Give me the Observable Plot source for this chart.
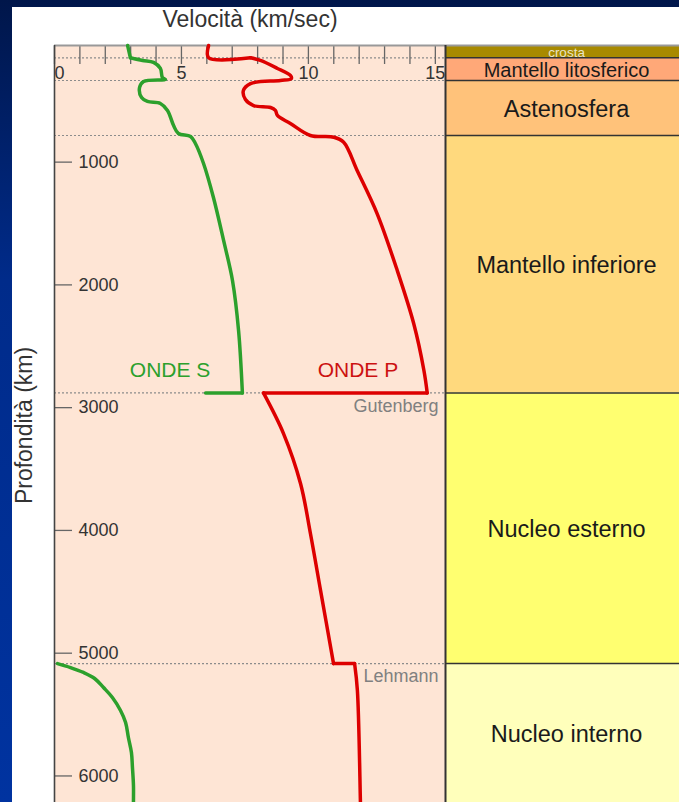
<!DOCTYPE html>
<html><head><meta charset="utf-8">
<script src="https://cdn.jsdelivr.net/npm/d3@7"></script>
<script src="https://cdn.jsdelivr.net/npm/@observablehq/plot@0.6"></script>
<style>
html,body{margin:0;padding:0;width:679px;height:802px;overflow:hidden;}
body{background:linear-gradient(180deg,#00164a 0%,#002b8a 35%,#0033a0 100%);position:relative;font-family:"Liberation Sans",Arial,sans-serif;}
#panel{position:absolute;left:12px;top:7px;width:667px;height:795px;background:#fff;overflow:hidden;}
#main{position:absolute;left:0;top:0;width:433px;}
#col{position:absolute;left:432px;top:0;width:243px;}
#panel svg{max-width:none !important;}
</style></head><body>
<div id="panel"><div id="main"></div><div id="col"></div></div>
<script>
// ---- data ----
const depthDomain = [50, 6371];                 // km, top of frame to Earth's centre
const xTicks = [0,1,2,3,4,5,6,7,8,9,10,11,12,13,14,15];
const xTickLabels = [0, 5, 10, 15];
const yTickLabels = [1000, 2000, 3000, 4000, 5000, 6000];

const layerNames  = ["crosta","Mantello litosferico","Astenosfera","Mantello inferiore","Nucleo esterno","Nucleo interno"];
const layerTop    = [50, 150, 335, 783, 2880, 5085];
const layerBottom = [150, 335, 783, 2880, 5085, 6371];
const layerColors = ["#a88a00","#ffa878","#ffc27a","#ffd97d","#ffff70","#ffffbb"];

const discNames  = ["Gutenberg", "Lehmann"];
const discDepths = [2880, 5085];

const waveNames = ["ONDE S", "ONDE P"];

// S waves in crust + mantle: [velocity km/s, depth km]
const sMantle = [[2.88,50],[2.99,150],[3.47,172],[3.90,188],[4.17,237],[4.25,311],[4.37,327],[3.51,343],[3.35,392],[3.43,474],[3.66,506],[4.17,522],[4.45,579],[4.69,702],[4.88,767],[5.36,791],[5.55,848],[5.87,1011],[6.26,1288],[6.66,1638],[7.01,1964],[7.25,2372],[7.40,2880],[5.95,2880]];
// S waves in inner core
const sInner = [[0.12,5085],[0.63,5117],[1.14,5157],[1.58,5206],[1.93,5280],[2.28,5361],[2.60,5467],[2.80,5565],[2.91,5687],[3.03,5809],[3.07,5931],[3.11,6078],[3.11,6217],[3.11,6371]];
// P waves
const pWave = [[6.07,50],[6.07,150],[7.72,150],[8.11,172],[8.78,237],[9.29,294],[9.33,319],[8.90,335],[7.72,360],[7.44,417],[7.52,490],[7.84,539],[8.51,555],[8.70,579],[8.78,620],[9.29,685],[10.08,783],[11.0,797],[11.39,838],[11.92,1068],[12.71,1421],[13.50,1883],[14.15,2317],[14.55,2697],[14.68,2880],[8.23,2880],[9.02,3211],[9.69,3618],[10.08,4025],[10.48,4490],[10.99,5085],[11.82,5085],[11.93,5304],[12.05,6217],[12.07,6371]];

// ---- build ----
const FONT = "Liberation Sans, Arial, Helvetica, sans-serif";
const boundaries = layerTop.slice(1);
const layers = layerNames.map((name, i) => ({name, top: layerTop[i], bottom: layerBottom[i]}));
const discs = discNames.map((name, i) => ({name, depth: discDepths[i]}));
const sPeak = sMantle[sMantle.length - 2];
const pPeakIndex = d3.maxIndex(pWave, d => d[0]);
const pPeak = pWave[pPeakIndex];
const xy = {x: d => d[0], y: d => d[1]};

// split curves into smooth stretches and sharp steps (breaks at discontinuities / corners)
function pieces(arr, breaks) {
  const out = [];
  for (let k = 0; k < breaks.length - 1; k++) out.push(arr.slice(breaks[k], breaks[k + 1] + 1));
  return out;
}
const lehmannIndex = pWave.findIndex(d => d[1] === discDepths[1]);
const sBreaks = [0, 1, sMantle.length - 2, sMantle.length - 1];
const pBreaks = [0, 2, pPeakIndex, pPeakIndex + 1, lehmannIndex, lehmannIndex + 1, pWave.length - 1];
const sPieces = pieces(sMantle, sBreaks);
const pPieces = pieces(pWave, pBreaks);
const lineStyle = {strokeWidth: 3.5, strokeLinecap: "round", strokeLinejoin: "round"};
function curveMarks(parts, stroke) {
  return parts.map(part => Plot.line(part, {...xy, ...lineStyle, stroke, curve: part.length > 2 ? "catmull-rom" : "linear"}));
}

const main = Plot.plot({
  width: 433, height: 814,
  marginLeft: 42, marginRight: 0, marginTop: 38, marginBottom: 0,
  x: {domain: [0, 15.4]},
  y: {domain: depthDomain, reverse: true},
  style: {background: "transparent", fontFamily: FONT, maxWidth: "none"},
  marks: [
    Plot.frame({fill: "#fee5d5", stroke: "none"}),
    Plot.ruleY(boundaries, {y: d => d, stroke: "#8c8c8c", strokeDasharray: "2,2", strokeWidth: 1.2}),
    Plot.axisX(xTicks, {anchor: "top", tickSize: -18, fill: "none", stroke: "#666", strokeWidth: 1.3, label: null}),
    Plot.axisY(yTickLabels, {anchor: "left", tickSize: -18, fill: "none", stroke: "#666", strokeWidth: 1.3, label: null}),
    Plot.ruleY([depthDomain[0]], {y: d => d, stroke: "#999", strokeWidth: 2}),
    Plot.ruleX([0], {x: d => d, stroke: "#444", strokeWidth: 1.6}),
    Plot.text(xTickLabels.slice(0, 1), {x: d => d, text: d => String(d), frameAnchor: "top", dy: 28, dx: 0, textAnchor: "start", lineAnchor: "middle", fontSize: 18, fill: "#333"}),
    Plot.text(xTickLabels.slice(1), {x: d => d, text: d => String(d), frameAnchor: "top", dy: 28, textAnchor: "middle", lineAnchor: "middle", fontSize: 18, fill: "#333"}),
    Plot.text(yTickLabels, {y: d => d, text: d => String(d), frameAnchor: "left", dx: 24, textAnchor: "start", lineAnchor: "middle", fontSize: 18, fill: "#333"}),
    Plot.text(["Velocità (km/sec)"], {text: d => d, frameAnchor: "top", dy: -26, textAnchor: "middle", lineAnchor: "middle", fontSize: 23, fill: "#333"}),
    Plot.text(["Profondità (km)"], {text: d => d, frameAnchor: "left", dx: -30, dy: -8, rotate: -90, textAnchor: "middle", lineAnchor: "middle", fontSize: 23, fill: "#333"}),
    Plot.text(discs, {y: "depth", text: "name", frameAnchor: "right", dx: -7, dy: 13, textAnchor: "end", lineAnchor: "middle", fontSize: 18, fill: "#808080"}),
    ...curveMarks(sPieces, "#2ca02c"),
    Plot.line(sInner, {...xy, ...lineStyle, stroke: "#2ca02c", curve: "catmull-rom"}),
    ...curveMarks(pPieces, "#dd0000"),
    Plot.text([sPeak], {...xy, text: () => waveNames[0], dx: -32, dy: -23, textAnchor: "end", fontSize: 21, fill: "#2ca02c"}),
    Plot.text([pPeak], {...xy, text: () => waveNames[1], dx: -29, dy: -23, textAnchor: "end", fontSize: 21, fill: "#cc1111"})
  ]
});
document.getElementById("main").appendChild(main);

const big = layers.slice(2);
const col = Plot.plot({
  width: 243, height: 814,
  marginLeft: 1, marginRight: 0, marginTop: 38, marginBottom: 0,
  x: {domain: [0, 1], axis: null},
  y: {domain: depthDomain, reverse: true, axis: null},
  color: {domain: layerNames, range: layerColors},
  style: {background: "transparent", fontFamily: FONT, maxWidth: "none"},
  marks: [
    Plot.rect(layers, {x1: 0, x2: 1, y1: "top", y2: "bottom", fill: "name"}),
    Plot.ruleY(boundaries, {y: d => d, stroke: "#333", strokeWidth: 1.5}),
    Plot.ruleY([depthDomain[0]], {y: d => d, stroke: "#999", strokeWidth: 2}),
    Plot.ruleX([0], {x: d => d, stroke: "#333", strokeWidth: 2}),
    Plot.text(layers.slice(0, 1), {x: 0.5, y: d => (d.top + d.bottom) / 2, text: "name", dy: 1, fontSize: 13.5, fill: "#e9e4c6"}),
    Plot.text(layers.slice(1, 2), {x: 0.5, y: d => (d.top + d.bottom) / 2, text: "name", dy: 1, fontSize: 20, fill: "#1a1a1a"}),
    Plot.text(big.slice(0, 3), {x: 0.5, y: d => (d.top + d.bottom) / 2, text: "name", dy: 1.5, fontSize: 23.5, fill: "#1a1a1a"}),
    Plot.text(big.slice(3), {x: 0.5, y: d => (d.top + d.bottom) / 2, text: "name", dy: -8, fontSize: 23.5, fill: "#1a1a1a"})
  ]
});
document.getElementById("col").appendChild(col);
</script></body></html>
